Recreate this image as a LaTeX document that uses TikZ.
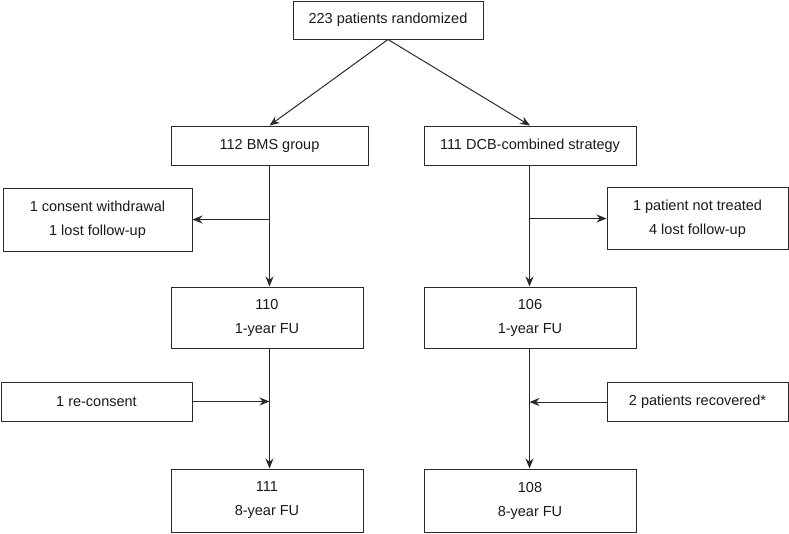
\documentclass[tikz,border=0pt]{standalone}
\usepackage{fontspec}
\setmainfont{Liberation Sans}
\usetikzlibrary{arrows.meta}
\definecolor{ln}{HTML}{2A2A2A}
\tikzset{
  box/.style={draw=ln, line width=1pt, align=center, inner sep=0pt, text=black!90,
    font=\fontsize{14.5}{24}\selectfont},
  conn/.style={draw=ln, line width=1pt, -{Stealth[length=10pt,width=8pt]}},
  plain/.style={draw=ln, line width=1pt}
}
\begin{document}
\begin{tikzpicture}[x=1pt,y=-1pt]
\useasboundingbox (0,0) rectangle (789,533);
\node[box, minimum width=190pt, minimum height=38pt] (top) at (388,20) {223 patients randomized};
\node[box, minimum width=197pt, minimum height=39pt] (bms) at (269.5,145.5) {112 BMS group};
\node[box, minimum width=212pt, minimum height=39pt] (dcb) at (530,145.5) {111 DCB-combined strategy};
\node[box, minimum width=189pt, minimum height=63pt] (lossL) at (97.5,219.5) {1 consent withdrawal\\1 lost follow-up};
\node[box, minimum width=181pt, minimum height=62pt] (lossR) at (697.5,218.5) {1 patient not treated\\4 lost follow-up};
\node[box, minimum width=192pt, minimum height=61pt] (fuL) at (267,317.5) {110\\1-year FU};
\node[box, minimum width=212pt, minimum height=61pt] (fuR) at (530,317.5) {106\\1-year FU};
\node[box, minimum width=191pt, minimum height=39pt] (addL) at (96.5,401.5) {1 re-consent};
\node[box, minimum width=181pt, minimum height=39pt] (addR) at (697.5,402) {2 patients recovered*};
\node[box, minimum width=192pt, minimum height=63pt] (eightL) at (267,500.5) {111\\8-year FU};
\node[box, minimum width=212pt, minimum height=63pt] (eightR) at (530,500.5) {108\\8-year FU};
\coordinate (cl) at (269.5,0);
\coordinate (cr) at (529.5,0);
\draw[conn] (top.south) -- (bms.north);
\draw[conn] (top.south) -- (dcb.north);
\draw[conn] (cl |- bms.south) -- (cl |- fuL.north);
\draw[conn] (cl |- lossL.east) -- (lossL.east);
\draw[conn] (cr |- dcb.south) -- (cr |- fuR.north);
\draw[conn] (cr |- lossR.west) -- (lossR.west);
\draw[conn] (cl |- fuL.south) -- (cl |- eightL.north);
\draw[conn] (addL.east) -- (cl |- addL.east);
\draw[conn] (cr |- fuR.south) -- (cr |- eightR.north);
\draw[conn] (addR.west) -- (cr |- addR.west);
\end{tikzpicture}
\end{document}
